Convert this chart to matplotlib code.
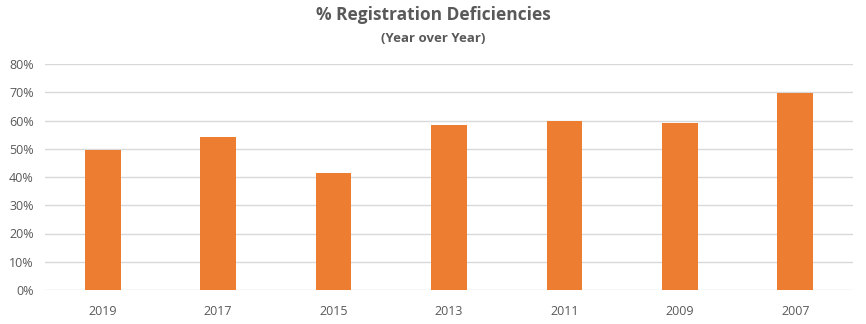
import matplotlib
matplotlib.use("Agg")
import matplotlib.pyplot as plt
from matplotlib.ticker import PercentFormatter

years = ["2019", "2017", "2015", "2013", "2011", "2009", "2007"]
deficiency_pct = [49.4, 54.3, 41.5, 58.5, 60.0, 59.0, 69.9]
y_ticks = [0, 10, 20, 30, 40, 50, 60, 70, 80]

plt.rcParams['font.family'] = ['Open Sans', 'DejaVu Sans']
txt = '#595959'

fig = plt.figure(figsize=(8.66, 3.24), dpi=100)
ax = fig.add_axes([45/866, 1-290/324, (853-45)/866, (290-64)/324])
x = range(len(years))
ax.bar(x, deficiency_pct, width=0.31, color='#ED7D31', zorder=3)
ax.set_xlim(-0.5, len(years)-0.5)
ax.set_ylim(0, 80)
ax.set_yticks(y_ticks)
ax.yaxis.set_major_formatter(PercentFormatter(decimals=0))
ax.set_xticks(list(x))
ax.set_xticklabels(years)
ax.grid(axis='y', color='#d9d9d9', linewidth=1, zorder=0)
for s in ax.spines.values():
    s.set_visible(False)
ax.tick_params(axis='both', length=0, colors=txt, labelsize=9)
ax.tick_params(axis='x', pad=11)
ax.tick_params(axis='y', pad=8)

fig.text(0.5, 1-15/324, '% Registration Deficiencies', ha='center', va='center',
         fontsize=12.5, fontweight='bold', color=txt)
fig.text(0.5, 1-38/324, '(Year over Year)', ha='center', va='center',
         fontsize=9.5, fontweight='bold', color=txt)

fig.savefig('out.png', dpi=100)
